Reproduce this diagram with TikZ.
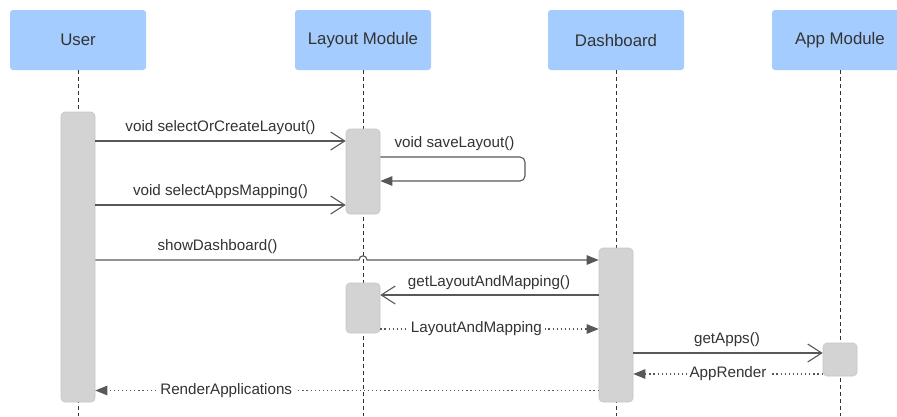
\documentclass[tikz,border=0pt]{standalone}
\usepackage{fontspec}
\setmainfont{Liberation Sans}
\usetikzlibrary{arrows.meta}

\definecolor{hdrfill}{RGB}{164,204,254}
\definecolor{txt}{RGB}{51,51,51}
\definecolor{actfill}{RGB}{211,211,211}
\definecolor{actedge}{RGB}{198,198,198}
\definecolor{wire}{RGB}{88,88,88}

\tikzset{
  hdr/.style={fill=hdrfill, rounded corners=3pt, minimum width=136pt, minimum height=60pt,
    inner sep=0pt, text=txt, font=\fontsize{16.8}{20}\selectfont},
  life/.style={draw=txt, line width=0.8pt, dash pattern=on 4pt off 3pt},
  act/.style={fill=actfill, draw=actedge, line width=0.6pt, rounded corners=4pt,
    minimum width=34pt, inner sep=0pt},
  msg/.style={draw=wire, line width=1.1pt},
  opentip/.style={-{Straight Barb[length=14pt,width=18pt,line width=1.1pt]}},
  filltip/.style={-{Triangle[length=12pt,width=9.5pt]}, draw=wire, line width=1.1pt},
  ret/.style={dash pattern=on 1.2pt off 2.9pt},
  lbl/.style={text=txt, inner sep=0pt, font=\fontsize{15.2}{18}\selectfont},
  onlbl/.style={lbl, fill=white, inner xsep=3pt, inner ysep=1pt},
}

\begin{document}
\begin{tikzpicture}[x=1pt, y=-1pt]
  \useasboundingbox (0,0) rectangle (897,416);
  \clip (0,0) rectangle (897,416);

  % participants
  \node[hdr] (user) at (78,40) {User};
  \node[hdr] (layout) at (363,40) {Layout Module};
  \node[hdr] (dash) at (616,40) {Dashboard};
  \node[hdr] (app) at (840,40) {App Module};

  % bottom ends of the lifelines
  \coordinate (userEnd) at (78,416);
  \coordinate (layoutEnd) at (363,416);
  \coordinate (dashEnd) at (616,416);
  \coordinate (appEnd) at (840,416);

  \draw[life] (user.south) -- (userEnd);
  \draw[life] (layout.south) -- (layoutEnd);
  \draw[life] (dash.south) -- (dashEnd);
  \draw[life] (app.south) -- (appEnd);

  % activation bars
  \node[act, minimum height=290pt] (ua) at (78,257) {};
  \node[act, minimum height=85pt] (la1) at (363,171.5) {};
  \node[act, minimum height=50pt] (la2) at (363,308) {};
  \node[act, minimum height=154pt] (da) at (616,325) {};
  \node[act, minimum height=33pt] (aa) at (840,359.5) {};

  % user -> layout module
  \draw[msg, opentip] (ua.east |- 0,141) -- (la1.west |- 0,141);
  \node[lbl] (m1) at (220.5,128) {void selectOrCreateLayout()};

  % self call on layout module
  \draw[filltip, rounded corners=5pt] (la1.east |- 0,157) -- (525,157) -- (525,181) -- (la1.east |- 0,181);
  \node[lbl] (m2) at (454.5,143.5) {void saveLayout()};

  \draw[msg, opentip] (ua.east |- 0,205) -- (la1.west |- 0,205);
  \node[lbl] (m3) at (220.5,191.5) {void selectAppsMapping()};

  % user -> dashboard, hopping over the layout lifeline
  \draw[filltip] (ua.east |- 0,260) -- (359,260) .. controls (359,254.5) and (367,254.5) .. (367,260) -- (da.west |- 0,260);
  \node[lbl] (m4) at (217.5,247) {showDashboard()};

  % dashboard <-> layout module
  \draw[msg, opentip] (da.west |- 0,295) -- (la2.east |- 0,295);
  \node[lbl] (m5) at (489,283) {getLayoutAndMapping()};

  \draw[filltip, ret] (la2.east |- 0,329) -- (da.west |- 0,329)
    node[onlbl, pos=0.44] (m6) {LayoutAndMapping};

  % dashboard <-> app module
  \draw[msg, opentip] (da.east |- 0,353) -- (aa.west |- 0,353);
  \node[lbl] (m7) at (727,340) {getApps()};

  \draw[filltip, ret] (aa.west |- 0,374) -- (da.east |- 0,374)
    node[onlbl, pos=0.5] (m8) {AppRender};

  % dashboard -> user
  \draw[filltip, ret] (da.west |- 0,390.5) -- (ua.east |- 0,390.5)
    node[onlbl, pos=0.74] (m9) {RenderApplications};
\end{tikzpicture}
\end{document}
